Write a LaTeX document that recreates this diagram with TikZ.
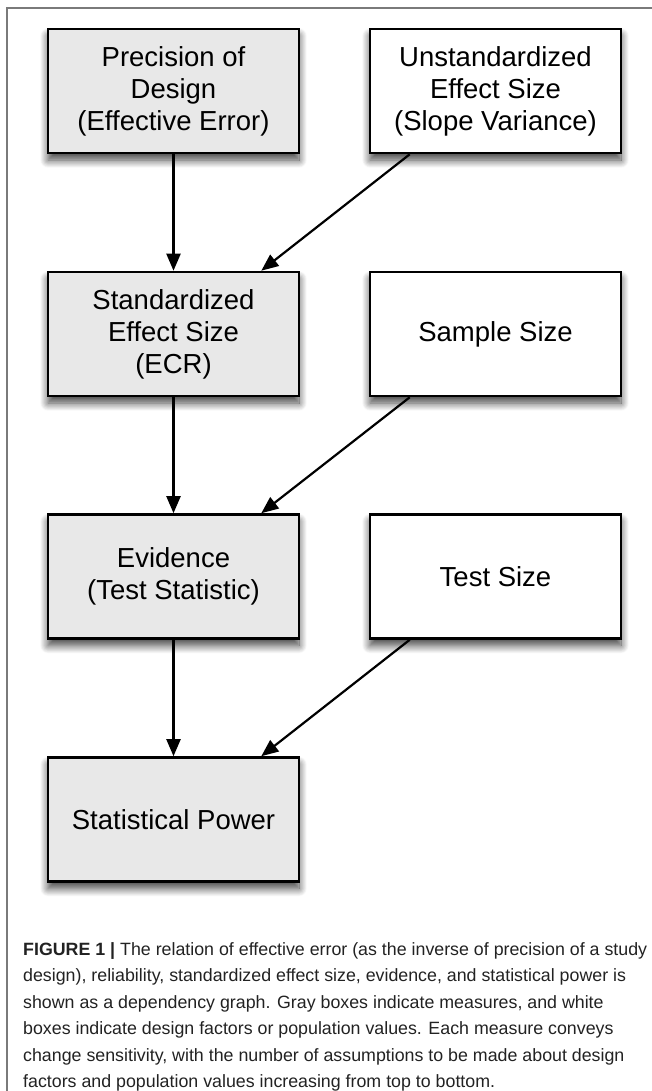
\documentclass[tikz,border=0pt]{standalone}
\usepackage{fontspec}
\setmainfont{Liberation Sans}
\usetikzlibrary{arrows.meta,shadows.blur}

\definecolor{measurefill}{HTML}{E8E8E8}
\definecolor{framegray}{HTML}{7A7A7A}
\definecolor{captext}{HTML}{222222}

\tikzset{
  box/.style={
    draw=black, line width=2.6pt, rectangle, inner sep=0pt,
    minimum width=251pt, minimum height=124pt, align=center,
    font=\fontsize{27.5}{32}\selectfont,
    blur shadow={shadow xshift=0pt, shadow yshift=-7pt,
                 shadow blur radius=8pt, shadow blur steps=14,
                 shadow opacity=75}},
  measure/.style={box, fill=measurefill},
  factor/.style={box, fill=white},
  link/.style={line width=2.2pt, -{Triangle[length=17pt,width=14pt]}},
  capline/.style={anchor=base west, inner sep=0pt, text=captext,
                  font=\fontsize{17.8}{26}\selectfont}
}

\begin{document}
\begin{tikzpicture}[x=1pt,y=-1pt]
  \useasboundingbox (0,0) rectangle (652,1091);

  % outer frame (left and top rules)
  \draw[framegray, line width=1.6pt] (7,1091) -- (7,8) -- (652,8);

  % measures (left column) and design factors (right column)
  \node[measure] (ped) at (173.5,91)    {Precision of\\Design\\(Effective Error)};
  \node[factor]  (ues) at (495.5,91)    {Unstandardized\\Effect Size\\(Slope Variance)};
  \node[measure] (ses) at (173.5,334)   {Standardized\\Effect Size\\(ECR)};
  \node[factor]  (ssz) at (495.5,334)   {Sample Size};
  \node[measure] (evi) at (173.5,576.5) {Evidence\\(Test Statistic)};
  \node[factor]  (tsz) at (495.5,576.5) {Test Size};
  \node[measure] (pow) at (173.5,819.5) {Statistical Power};

  % dependencies
  \draw[link] (ped) -- (ses);
  \draw[link] (ses) -- (evi);
  \draw[link] (evi) -- (pow);
  \draw[link] ([xshift=41pt]ues.south west) -- ([xshift=-39pt]ses.north east);
  \draw[link] ([xshift=41pt]ssz.south west) -- ([xshift=-39pt]evi.north east);
  \draw[link] ([xshift=41pt]tsz.south west) -- ([xshift=-39pt]pow.north east);

  % caption
  \node[capline] (c1) at (23,955)    {\textbf{FIGURE 1 |} The relation of effective error (as the inverse of precision of a study};
  \node[capline] (c2) at (23,981.5)  {design), reliability, standardized effect size, evidence, and statistical power is};
  \node[capline] (c3) at (23,1008)   {shown as a dependency graph. Gray boxes indicate measures, and white};
  \node[capline] (c4) at (23,1034.5) {boxes indicate design factors or population values. Each measure conveys};
  \node[capline] (c5) at (23,1061)   {change sensitivity, with the number of assumptions to be made about design};
  \node[capline] (c6) at (23,1087.5) {factors and population values increasing from top to bottom.};
\end{tikzpicture}
\end{document}
